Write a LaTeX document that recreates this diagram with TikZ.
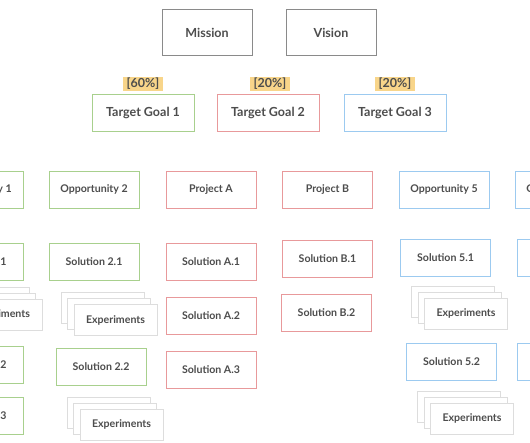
\documentclass[tikz,border=0pt]{standalone}
\usepackage{fontspec}
\setmainfont{Lato}
\usetikzlibrary{positioning,shadows}
\definecolor{txt}{HTML}{4D4D4D}
\definecolor{headline}{HTML}{8A8A8A}
\definecolor{goalgreen}{HTML}{A8D08D}
\definecolor{goalred}{HTML}{E8999B}
\definecolor{goalblue}{HTML}{9CCAF0}
\definecolor{expline}{HTML}{DDDDDD}
\definecolor{pctfill}{HTML}{F8D58A}

\begin{document}
\begin{tikzpicture}[x=1pt, y=-1pt,
  box/.style={draw, line width=1pt, fill=white, text=txt, align=center,
              font=\bfseries\fontsize{10.6}{12}\selectfont,
              minimum width=90pt, minimum height=37pt, inner sep=0pt, outer sep=0pt},
  headbox/.style={box, draw=headline, minimum height=46pt, font=\bfseries\fontsize{12.5}{14}\selectfont},
  goalbox/.style={box, minimum width=102pt, font=\bfseries\fontsize{12.5}{14}\selectfont},
  gbox/.style={box, draw=goalgreen},
  rbox/.style={box, draw=goalred},
  bbox/.style={box, draw=goalblue},
  pct/.style={fill=pctfill, text=txt, font=\bfseries\fontsize{12.5}{14}\selectfont,
              inner xsep=4pt, inner ysep=0pt, minimum height=14pt, outer sep=0pt},
  expbox/.style={box, draw=expline, minimum width=83pt, minimum height=31pt,
                 copy shadow={shadow xshift=-13pt, shadow yshift=12pt, draw=expline, fill=white},
                 copy shadow={shadow xshift=-6.5pt, shadow yshift=6pt, draw=expline, fill=white}}]
\useasboundingbox (0,0) rectangle (530,442);
\clip (0,0) rectangle (530,442);
\node[headbox] (mission) at (207,32.5) {Mission};
\node[headbox] (vision) at (331,32.5) {Vision};
\node[goalbox, draw=goalgreen] (goal1) at (143,113) {Target Goal 1};
\node[goalbox, draw=goalred] (goal2) at (268,113) {Target Goal 2};
\node[goalbox, draw=goalblue] (goal3) at (395,113) {Target Goal 3};
\node[pct, above=4pt of goal1] (pct1) {[60\%]};
\node[pct, above=4pt of goal2, xshift=2pt] (pct2) {[20\%]};
\node[pct, above=4pt of goal3] (pct3) {[20\%]};
\node[gbox] (opp1) at (-22,189.5) {Opportunity 1};
\node[gbox] (opp2) at (94,189.5) {Opportunity 2};
\node[rbox] (proja) at (211,189.5) {Project A};
\node[rbox] (projb) at (327.5,189.5) {Project B};
\node[bbox] (opp5) at (444,189.5) {Opportunity 5};
\node[bbox] (opp6) at (560,189.5) {Opportunity 6};
\node[gbox, below=35pt of opp1] (sol11) {Solution 1.1};
\node[expbox, below=19pt of sol11, xshift=22.5pt] (exp11) {Experiments};
\node[gbox, below=66pt of sol11] (sol12) {Solution 1.2};
\node[gbox, below=14pt of sol12] (sol13) {Solution 1.3};
\node[gbox, below=35pt of opp2] (sol21) {Solution 2.1};
\node[expbox, below=24.5pt of sol21, xshift=21.5pt] (exp21) {Experiments};
\node[gbox, below=68pt of sol21, xshift=7pt] (sol22) {Solution 2.2};
\node[expbox, below=24pt of sol22, xshift=20.5pt] (exp22) {Experiments};
\node[rbox, below=35.5pt of proja] (sola1) {Solution A.1};
\node[rbox, below=16.5pt of sola1] (sola2) {Solution A.2};
\node[rbox, below=17.5pt of sola2] (sola3) {Solution A.3};
\node[rbox, below=32pt of projb] (solb1) {Solution B.1};
\node[rbox, below=17pt of solb1, xshift=-1pt] (solb2) {Solution B.2};
\node[bbox, below=31pt of opp5, xshift=1.5pt] (sol51) {Solution 5.1};
\node[expbox, below=22pt of sol51, xshift=20.5pt] (exp51) {Experiments};
\node[bbox, below=67pt of sol51, xshift=6pt] (sol52) {Solution 5.2};
\node[expbox, below=23pt of sol52, xshift=20.5pt] (exp52) {Experiments};
\node[bbox, below=31pt of opp6, xshift=2pt] (sol61) {Solution 6.1};
\node[bbox, below=67pt of sol61] (sol62) {Solution 6.2};
\end{tikzpicture}
\end{document}
